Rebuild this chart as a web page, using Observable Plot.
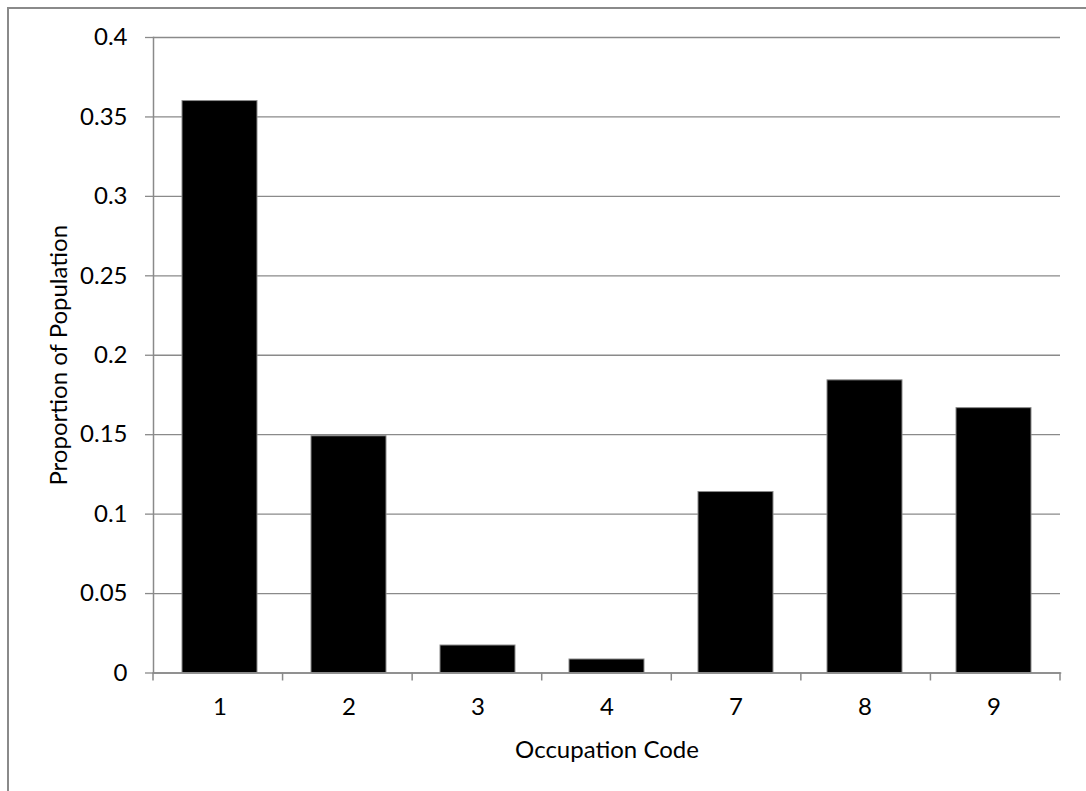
<!DOCTYPE html>
<html>
<head>
<meta charset="utf-8">
<script src="https://cdn.jsdelivr.net/npm/d3@7"></script>
<script src="https://cdn.jsdelivr.net/npm/@observablehq/plot@0.6"></script>
<style>
  html, body { margin: 0; padding: 0; background: #fff; }
  #wrap { position: relative; width: 1086px; height: 791px; overflow: hidden; }
  #edge { position: absolute; left: 7px; top: 7px; width: 2000px; height: 2000px;
          border-left: 2px solid #8a8a8a; border-top: 2px solid #8a8a8a; box-sizing: border-box; }
  #chart { position: absolute; left: 0; top: 0; }
</style>
</head>
<body>
<div id="wrap"><div id="edge"></div><div id="chart"></div></div>
<script>
// Occupation codes and the share of the population in each
const codes = ["1", "2", "3", "4", "7", "8", "9"];
const proportions = [0.360, 0.149, 0.0173, 0.0085, 0.1139, 0.1842, 0.1667];
const yTicks = [0, 0.05, 0.1, 0.15, 0.2, 0.25, 0.3, 0.35, 0.4];
const xTitle = "Occupation Code";
const yTitle = "Proportion of Population";

const rows = codes.map((code, i) => ({code, p: proportions[i]}));
const grey = "#8a8a8a";
const font = "Lato, 'Open Sans', sans-serif";

// Tick marks on the category boundaries of the x axis
function boundaryTicks(index, scales, values, dims) {
  const left = dims.marginLeft;
  const right = dims.width - dims.marginRight;
  const y0 = dims.height - dims.marginBottom;
  const g = d3.create("svg:g");
  for (let i = 0; i <= codes.length; i++) {
    const x = left + (i * (right - left)) / codes.length;
    g.append("line")
      .attr("x1", x).attr("x2", x)
      .attr("y1", y0).attr("y2", y0 + 8)
      .attr("stroke", grey).attr("stroke-width", 1.5);
  }
  return g.node();
}

const chart = Plot.plot({
  width: 1086,
  height: 791,
  marginLeft: 153,
  marginRight: 26,
  marginTop: 37,
  marginBottom: 118.5,
  style: {fontFamily: font, fontSize: "24px", color: "#000", background: "transparent", overflow: "visible"},
  x: {domain: codes, paddingInner: 0.415, paddingOuter: 0.2075, label: null},
  y: {domain: [0, 0.4], label: null},
  marks: [
    Plot.gridY(yTicks, {stroke: grey, strokeOpacity: 1, strokeWidth: 1.3}),
    Plot.axisY(yTicks, {tickSize: 8, tickPadding: 18, stroke: grey, strokeWidth: 1.3, tickFormat: d3.format("~g"), label: null, fill: "#000"}),
    Plot.frame({anchor: "left", stroke: grey, strokeWidth: 1.5}),
    Plot.barY(rows, {x: "code", y: "p", fill: "#000", stroke: grey, strokeWidth: 1}),
    Plot.frame({anchor: "bottom", stroke: grey, strokeWidth: 1.5}),
    Plot.axisX({tickSize: 0, tickPadding: 25, label: null, fill: "#000"}),
    boundaryTicks,
    Plot.text([xTitle], {frameAnchor: "bottom", dy: 84.5, lineAnchor: "bottom", fill: "#000"}),
    Plot.text([yTitle], {frameAnchor: "left", textAnchor: "middle", rotate: -90, dx: -87, lineAnchor: "bottom", fill: "#000"})
  ]
});

document.getElementById("chart").appendChild(chart);
</script>
</body>
</html>
